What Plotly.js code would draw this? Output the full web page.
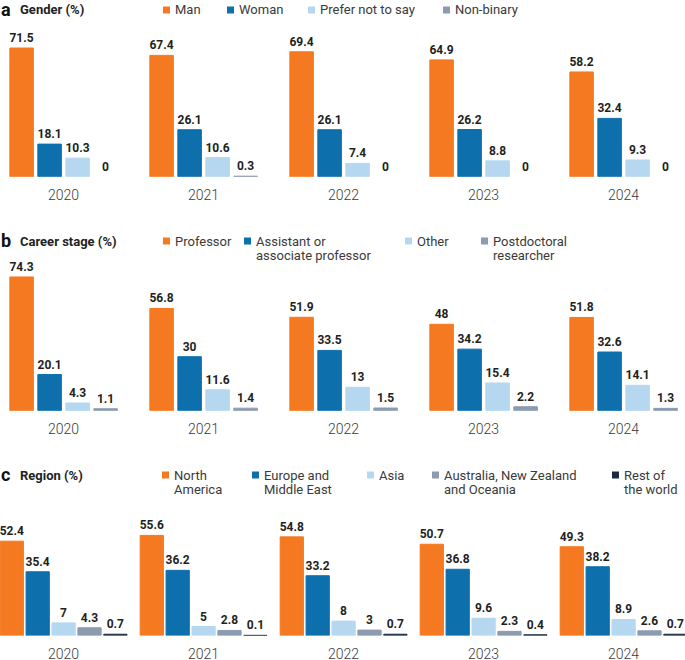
<!DOCTYPE html>
<html><head><meta charset="utf-8">
<script src="https://cdn.plot.ly/plotly-3.0.1.min.js"></script>
<style>html,body{margin:0;padding:0;background:#fff}#chart{width:685px;height:660px}</style>
</head><body><div id="chart"></div>
<script>
// ---------- data ----------
const years = ['2020', '2021', '2022', '2023', '2024'];

// a  Gender (%)
const genderNames = ['Man', 'Woman', 'Prefer not to say', 'Non-binary'];
const genderMan = [71.5, 67.4, 69.4, 64.9, 58.2];
const genderWoman = [18.1, 26.1, 26.1, 26.2, 32.4];
const genderPreferNot = [10.3, 10.6, 7.4, 8.8, 9.3];
const genderNonBinary = [0, 0.3, 0, 0, 0];

// b  Career stage (%)
const careerNames = ['Professor', 'Assistant or<br>associate professor', 'Other', 'Postdoctoral<br>researcher'];
const careerProfessor = [74.3, 56.8, 51.9, 48, 51.8];
const careerAssistant = [20.1, 30, 33.5, 34.2, 32.6];
const careerOther = [4.3, 11.6, 13, 15.4, 14.1];
const careerPostdoc = [1.1, 1.4, 1.5, 2.2, 1.3];

// c  Region (%)
const regionNames = ['North<br>America', 'Europe and<br>Middle East', 'Asia', 'Australia, New Zealand<br>and Oceania', 'Rest of<br>the world'];
const regionNorthAmerica = [52.4, 55.6, 54.8, 50.7, 49.3];
const regionEurope = [35.4, 36.2, 33.2, 36.8, 38.2];
const regionAsia = [7, 5, 8, 9.6, 8.9];
const regionAustralia = [4.3, 2.8, 3, 2.3, 2.6];
const regionRest = [0.7, 0.1, 0.7, 0.4, 0.7];

// ---------- style ----------
const W = 685, H = 660;
const FONT = 'Roboto, "Noto Sans", sans-serif';
const colors = ['#F47920', '#0E6FAD', '#B5D8F0', '#8C9BB0', '#1B2A44'];
const px = v => v / W;
const py = v => 1 - v / H;

const panels = [
  { letter: 'a', title: 'Gender (%)', names: genderNames,
    series: [genderMan, genderWoman, genderPreferNot, genderNonBinary],
    xa: 'x', ya: 'y', pitch: 0.2, barW: 0.168, base: 176.7, headY: 10,
    legX: [163, 227, 308, 443] },
  { letter: 'b', title: 'Career stage (%)', names: careerNames,
    series: [careerProfessor, careerAssistant, careerOther, careerPostdoc],
    xa: 'x2', ya: 'y2', pitch: 0.2, barW: 0.168, base: 410.7, headY: 241,
    legX: [163, 244, 405, 481] },
  { letter: 'c', title: 'Region (%)', names: regionNames,
    series: [regionNorthAmerica, regionEurope, regionAsia, regionAustralia, regionRest],
    xa: 'x3', ya: 'y3', pitch: 0.185, barW: 0.166, base: 635.5, headY: 475,
    legX: [162, 252, 367, 432, 612] }
];

const YMAX = 80, PX_PER_UNIT = 1.8;
const traces = [];
const annotations = [];
const shapes = [];
const layout = {
  width: W, height: H,
  margin: { l: 0, r: 0, t: 0, b: 0 },
  paper_bgcolor: '#fff', plot_bgcolor: '#fff',
  barmode: 'overlay',
  showlegend: false,
  font: { family: FONT, color: '#333' }
};

panels.forEach((p, pi) => {
  const n = p.series.length;
  p.series.forEach((vals, i) => {
    traces.push({
      type: 'bar', x: years, y: vals, name: p.names[i].replace('<br>', ' '),
      xaxis: p.xa, yaxis: p.ya,
      width: p.barW,
      offset: (i - (n - 1) / 2) * p.pitch - p.barW / 2,
      marker: { color: colors[i], line: { color: colors[i], width: vals.map(v => (v > 0 ? 1 : 0)) } },
      texttemplate: '%{y}', textposition: 'outside', cliponaxis: false,
      constraintext: 'none',
      textfont: { family: FONT, size: 12, color: '#231F20', weight: 700 },
      hoverinfo: 'skip'
    });
  });

  const suffix = pi === 0 ? '' : String(pi + 1);
  const bottom = py(p.base);
  const top = py(p.base - YMAX * PX_PER_UNIT);
  layout['xaxis' + suffix] = {
    domain: [0, 1], anchor: 'y' + suffix, type: 'category',
    range: [-63.6 / 140, -63.6 / 140 + W / 140],
    showgrid: false, zeroline: false, showline: false, ticks: '',
    tickfont: { family: FONT, size: 14, color: '#3A3A3A', weight: 300 },
    ticklabelstandoff: 8, fixedrange: true
  };
  layout['yaxis' + suffix] = {
    domain: [bottom, top], anchor: 'x' + suffix, range: [0, YMAX],
    visible: false, fixedrange: true
  };

  // panel header
  annotations.push({ xref: 'paper', yref: 'paper', x: px(0), y: py(p.headY - 1), xanchor: 'left', yanchor: 'middle',
    text: '<b>' + p.letter + '</b>', showarrow: false, borderpad: 0,
    font: { family: FONT, size: 18, color: '#111' } });
  annotations.push({ xref: 'paper', yref: 'paper', x: px(19), y: py(p.headY), xanchor: 'left', yanchor: 'middle',
    text: '<b>' + p.title + '</b>', showarrow: false, borderpad: 0,
    font: { family: FONT, size: 13, color: '#222' } });

  // legend (square + text lines)
  p.names.forEach((nm, i) => {
    const x0 = p.legX[i];
    shapes.push({ type: 'rect', xref: 'paper', yref: 'paper',
      x0: px(x0), x1: px(x0 + 7), y0: py(p.headY - 3.5), y1: py(p.headY + 3.5),
      fillcolor: colors[i], line: { width: 0 } });
    nm.split('<br>').forEach((line, k) => {
      annotations.push({ xref: 'paper', yref: 'paper', x: px(x0 + 11), y: py(p.headY + k * 14.5),
        xanchor: 'left', yanchor: 'middle', text: line, showarrow: false, borderpad: 0,
        font: { family: FONT, size: 13, color: '#3A3A3A' } });
    });
  });
});

layout.annotations = annotations;
layout.shapes = shapes;

Plotly.newPlot('chart', traces, layout, { displayModeBar: false, staticPlot: true });
</script>
</body></html>
